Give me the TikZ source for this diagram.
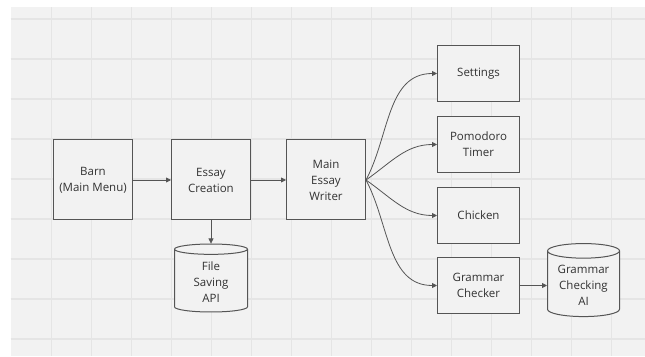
\documentclass[tikz,border=0pt]{standalone}
\usepackage{fontspec}
\setmainfont{Open Sans}
\usepackage{xcolor}
\usetikzlibrary{shapes.geometric, arrows.meta, positioning}
\definecolor{boardgray}{RGB}{242, 242, 242}
\definecolor{gridgray}{RGB}{229, 229, 229}
\definecolor{edgegray}{RGB}{85, 85, 85}
\definecolor{inkgray}{RGB}{50, 50, 50}
\tikzstyle{screen} = [rectangle, minimum width=79pt, minimum height=80pt, align=center, draw=edgegray, line width=1pt, fill=boardgray, text=inkgray, font=\fontsize{11.5}{16}\selectfont]
\tikzstyle{feature} = [screen, minimum width=82pt, minimum height=56pt]
\tikzstyle{database} = [cylinder, shape border rotate=90, shape aspect=0.25, minimum width=73pt, minimum height=68pt, align=center, draw=edgegray, line width=1pt, fill=boardgray, text=inkgray, font=\fontsize{11.5}{16}\selectfont]
\tikzstyle{arrow} = [line width=0.8pt, draw=edgegray, -{Triangle[length=5pt, width=5pt]}]

\begin{document}
\begin{tikzpicture}[x=1pt, y=1pt]

% board
\useasboundingbox (0,0) rectangle (645,356);
\fill[white] (0,0) rectangle (645,356);
\fill[boardgray] (10.5,0) rectangle (645,349);
\foreach \gx in {51.7, 91.7, ..., 631.7}
  \draw[gridgray, line width=1.2pt] (\gx,0) -- (\gx,349);
\foreach \gy in {17, 57, ..., 337}
  \draw[gridgray, line width=1.2pt] (10.5,\gy) -- (645,\gy);

\node (barn) [screen] at (93,176) {Barn\\(Main Menu)};
\node (essay) [screen, right=38pt of barn] {Essay\\Creation};
\node (writer) [screen, right=35pt of essay] {Main\\Essay\\Writer};
\node (filesave) [database, below=23pt of essay] {File\\Saving\\API};

\node (pomodoro) [feature, above right=7pt and 71pt of writer.east] {Pomodoro\\Timer};
\node (settings) [feature, above=14pt of pomodoro] {Settings};
\node (chicken) [feature, below right=7pt and 71pt of writer.east] {Chicken};
\node (grammar) [feature, below=13pt of chicken] {Grammar\\Checker};
\node (grammarai) [database, minimum width=72pt, minimum height=73pt, right=27pt of grammar] {Grammar\\Checking\\AI};

% Arrows
\draw [arrow] (barn) -- (essay);
\draw [arrow] (essay) -- (writer);
\draw [arrow] (essay) -- (filesave);
\draw [arrow] (writer.east) to[out=62, in=180] (settings.west);
\draw [arrow] (writer.east) to[out=35, in=180] (pomodoro.west);
\draw [arrow] (writer.east) to[out=-35, in=180] (chicken.west);
\draw [arrow] (writer.east) to[out=-62, in=180] (grammar.west);
\draw [arrow] (grammar) -- (grammarai);

\end{tikzpicture}
\end{document}
